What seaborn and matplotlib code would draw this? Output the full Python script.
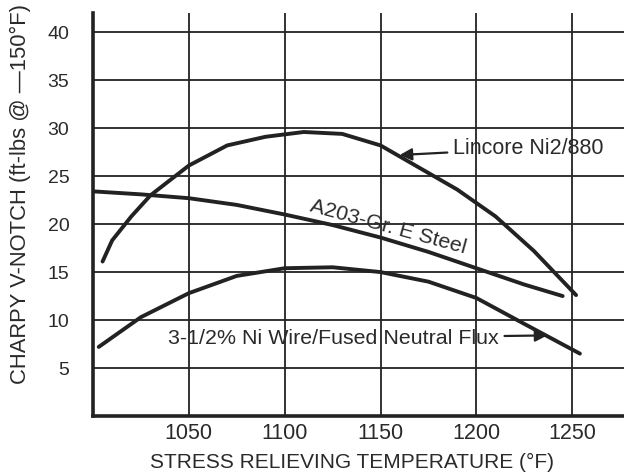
import numpy as np
import pandas as pd
import matplotlib
matplotlib.use("Agg")
import matplotlib.pyplot as plt
import seaborn as sns

# values
temp_lincore = [1005, 1010, 1020, 1030, 1050, 1070, 1090, 1110, 1130, 1150, 1170, 1190, 1210, 1230, 1252]
lincore = [16.1, 18.3, 20.8, 23.0, 26.1, 28.2, 29.1, 29.6, 29.4, 28.2, 25.9, 23.6, 20.8, 17.2, 12.6]

temp_steel = [1001, 1025, 1050, 1075, 1100, 1125, 1150, 1175, 1200, 1225, 1245]
steel = [23.4, 23.1, 22.7, 22.0, 21.0, 19.9, 18.6, 17.1, 15.4, 13.7, 12.5]

temp_ni = [1003, 1025, 1050, 1075, 1100, 1125, 1150, 1175, 1200, 1225, 1254]
ni = [7.2, 10.3, 12.8, 14.6, 15.4, 15.5, 15.0, 14.0, 12.3, 9.6, 6.5]

x_ticks = [1050, 1100, 1150, 1200, 1250]
y_ticks = [5, 10, 15, 20, 25, 30, 35, 40]

sns.set_style("white")
plt.rcParams["font.family"] = ["Liberation Sans", "DejaVu Sans"]

ink = "#222222"
txt = "#2a2a2a"

fig = plt.figure(figsize=(6.24, 4.73), dpi=100)
ax = fig.add_axes([0.149, 0.1205, 0.851, 0.852])

for xs, ys in [(temp_lincore, lincore), (temp_steel, steel), (temp_ni, ni)]:
    sns.lineplot(x=xs, y=ys, ax=ax, color=ink, linewidth=2.8, sort=False)

ax.set_xlim(1000, 1277)
ax.set_ylim(0, 42)
ax.set_xticks(x_ticks)
ax.set_yticks(y_ticks)
ax.grid(True, color=ink, linewidth=1.3)
ax.tick_params(axis="both", length=0, colors=txt)
ax.tick_params(axis="x", labelsize=15.5, pad=5)
ax.tick_params(axis="y", labelsize=14, pad=17)

for s in ["top", "right"]:
    ax.spines[s].set_visible(False)
for s in ["left", "bottom"]:
    ax.spines[s].set_color(ink)
    ax.spines[s].set_linewidth(2.6)

ax.set_xlabel("STRESS RELIEVING TEMPERATURE (°F)", fontsize=15, color=txt)
ax.xaxis.set_label_coords(0.488, -0.091)
ax.set_ylabel("CHARPY V-NOTCH (ft-lbs @ —150°F)", fontsize=15.8, color=txt)
ax.yaxis.set_label_coords(-0.117, 0.551)

arrow = dict(arrowstyle="-|>", color=ink, lw=1.6, mutation_scale=18, shrinkA=2, shrinkB=0)
ax.annotate("Lincore Ni2/880", xy=(1160, 27.2), xytext=(1188, 27.9),
            fontsize=15.5, color=txt, ha="left", va="center", arrowprops=arrow)
ax.annotate("3-1/2% Ni Wire/Fused Neutral Flux", xy=(1237, 8.4), xytext=(1039, 8.1),
            fontsize=15.4, color=txt, ha="left", va="center", arrowprops=arrow)
ax.text(1153.3, 19.2, "A203-Gr. E Steel", fontsize=15.4, color=txt, rotation=-15.3,
        ha="center", va="baseline", rotation_mode="anchor")

fig.savefig("out.png", dpi=100)
